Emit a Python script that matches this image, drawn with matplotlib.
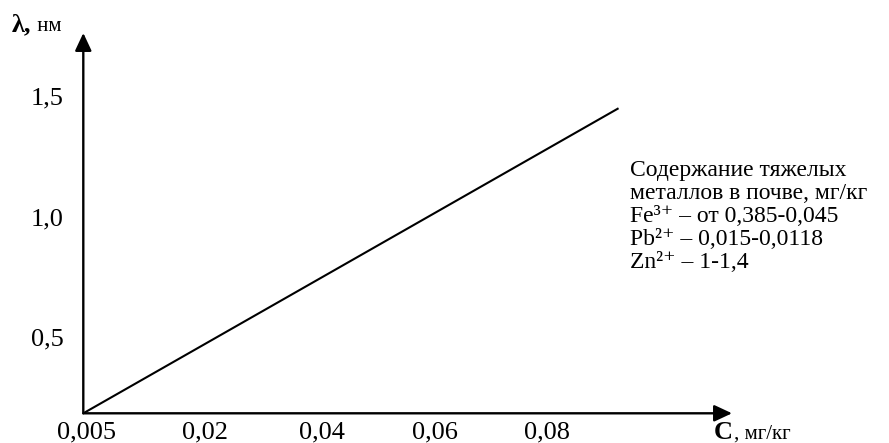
import matplotlib.pyplot as plt

plt.rcParams['font.family'] = ['Liberation Serif', 'DejaVu Serif']

# подписи осей (схематичный график, шкала по делениям)
x_labels = ['0,005', '0,02', '0,04', '0,06', '0,08']
y_ticks = [0.5, 1.0, 1.5]
y_labels = ['0,5', '1,0', '1,5']

# прямая зависимости (в делениях оси X и в нм)
line_x = [0.0, 4.72]
line_y = [0.185, 1.45]

notes = [
    'Содержание тяжелых',
    'металлов в почве, мг/кг',
    'Fe³⁺ – от 0,385-0,045',
    'Pb²⁺ – 0,015-0,0118',
    'Zn²⁺ – 1-1,4',
]

W, H = 889, 443
fig = plt.figure(figsize=(W / 100, H / 100), dpi=100)
x0, y0 = 83.3, 413.3
x1, y1 = 732, 33
ax = fig.add_axes([x0 / W, 1 - y0 / H, (x1 - x0) / W, (y0 - y1) / H])
ax.set_xlim(0, (x1 - x0) / 113.4)
ax.set_ylim(0.185, 1.762)
for s in ax.spines.values():
    s.set_visible(False)

ax.plot(line_x, line_y, color='black', lw=1.5, solid_capstyle='butt')

arrow = dict(arrowstyle='-|>,head_length=0.6,head_width=0.28', mutation_scale=18,
             lw=1.7, color='black', shrinkA=0, shrinkB=0)
ax.annotate('', xy=(1, 0), xytext=(0, 0), xycoords='axes fraction', arrowprops=arrow)
ax.annotate('', xy=(0, 1), xytext=(0, 0), xycoords='axes fraction', arrowprops=arrow)

x_pos = [0.03, 1.07, 2.1, 3.1, 4.09]
ax.set_xticks(x_pos, x_labels, fontsize=19)
ax.set_yticks(y_ticks, y_labels, fontsize=19)
ax.tick_params(axis='x', length=0, pad=6)
ax.tick_params(axis='y', length=0, pad=14)

fig.canvas.draw()
r = fig.canvas.get_renderer()

def label(x, y, big, small):
    t = fig.text(x / W, 1 - y / H, big, fontsize=19, fontweight='bold',
                 ha='left', va='baseline')
    bb = t.get_window_extent(r)
    fig.text(bb.x1 / W + 1 / W, 1 - y / H, small, fontsize=15,
             ha='left', va='baseline')

label(12, 31, 'λ,', ' нм')
label(714, 439, 'С', ', мг/кг')

# подпись справа одним блоком
fig.text(630 / W, 1 - 160 / H, '\n'.join(notes), fontsize=17, ha='left', va='top',
         linespacing=1.13)

fig.savefig('out.png', dpi=100)
